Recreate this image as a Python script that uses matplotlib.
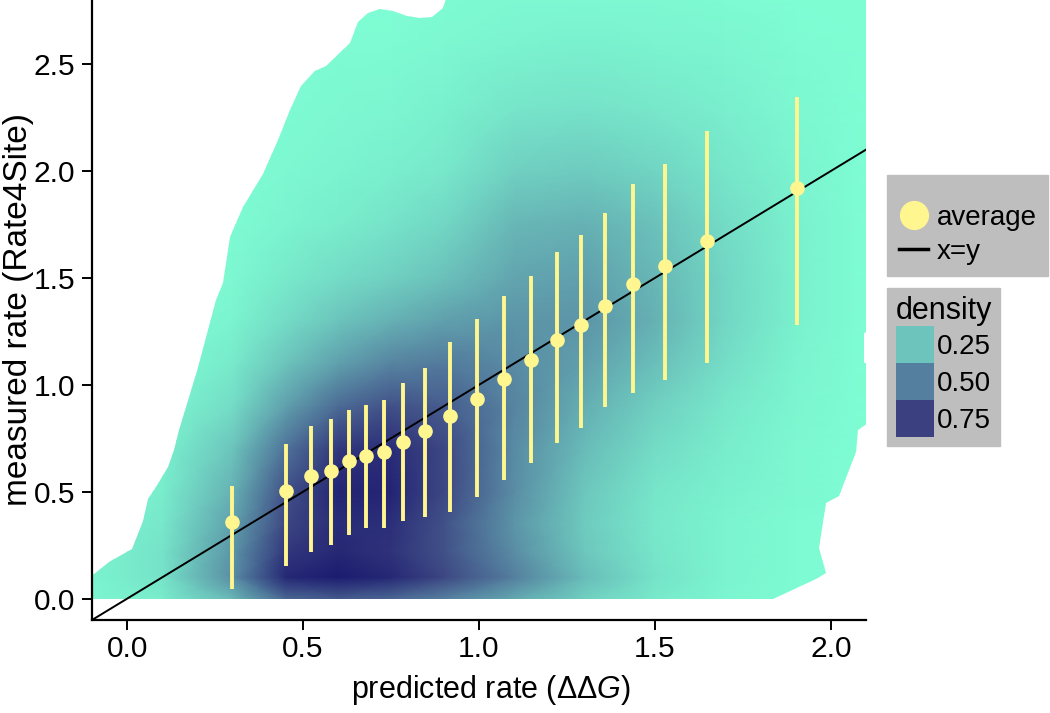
import numpy as np
import matplotlib
matplotlib.use("Agg")
import matplotlib.pyplot as plt
from matplotlib.colors import LinearSegmentedColormap, Normalize
from matplotlib.patches import Polygon, Patch
from matplotlib.lines import Line2D

plt.rcParams['font.family'] = ['Liberation Sans', 'DejaVu Sans']
plt.rcParams['mathtext.fontset'] = 'custom'
plt.rcParams['mathtext.rm'] = 'Liberation Sans'
plt.rcParams['mathtext.it'] = 'Liberation Sans:italic'

# ---- binned averages (predicted vs measured) ----
pred_x = [0.298, 0.450, 0.523, 0.580, 0.630, 0.678, 0.730, 0.785, 0.847, 0.917,
          0.993, 1.072, 1.148, 1.221, 1.289, 1.359, 1.438, 1.528, 1.649, 1.905]
meas_y = [0.357, 0.502, 0.573, 0.598, 0.645, 0.668, 0.684, 0.734, 0.782, 0.852,
          0.932, 1.027, 1.114, 1.211, 1.281, 1.370, 1.473, 1.554, 1.671, 1.921]
err_hi = [0.528, 0.721, 0.809, 0.841, 0.882, 0.907, 0.930, 1.008, 1.078, 1.199,
          1.309, 1.414, 1.509, 1.620, 1.701, 1.802, 1.938, 2.035, 2.186, 2.346]
err_lo = [0.045, 0.154, 0.217, 0.251, 0.298, 0.331, 0.331, 0.362, 0.380, 0.403,
          0.474, 0.556, 0.633, 0.730, 0.799, 0.896, 0.961, 1.024, 1.103, 1.278]

# ---- density field ----
dens_x = [-0.1, 0.1, 0.3, 0.45, 0.6, 0.75, 0.9, 1.1, 1.3, 1.5, 1.7, 1.9, 2.1]
dens_y = [0.0, 0.1, 0.22, 0.35, 0.5, 0.7, 0.9, 1.1, 1.3, 1.5, 1.75, 2.0, 2.3, 2.6, 2.8]
dens_z = [
    [0.04, 0.08, 0.30, 0.60, 0.65, 0.60, 0.50, 0.35, 0.20, 0.09, 0.04, 0.02, 0.01],
    [0.05, 0.12, 0.45, 0.88, 0.95, 0.88, 0.72, 0.50, 0.28, 0.12, 0.05, 0.02, 0.01],
    [0.05, 0.12, 0.42, 0.80, 0.88, 0.82, 0.68, 0.45, 0.24, 0.11, 0.05, 0.02, 0.01],
    [0.04, 0.10, 0.38, 0.72, 0.86, 0.84, 0.68, 0.42, 0.22, 0.10, 0.05, 0.02, 0.01],
    [0.03, 0.08, 0.32, 0.68, 0.90, 0.90, 0.72, 0.45, 0.24, 0.11, 0.06, 0.03, 0.01],
    [0.02, 0.06, 0.25, 0.55, 0.80, 0.85, 0.72, 0.46, 0.28, 0.15, 0.08, 0.03, 0.01],
    [0.01, 0.04, 0.15, 0.38, 0.58, 0.68, 0.64, 0.48, 0.33, 0.20, 0.10, 0.04, 0.01],
    [0.01, 0.02, 0.09, 0.25, 0.38, 0.48, 0.52, 0.46, 0.38, 0.27, 0.14, 0.05, 0.01],
    [0.00, 0.01, 0.05, 0.15, 0.25, 0.32, 0.38, 0.42, 0.42, 0.32, 0.17, 0.06, 0.01],
    [0.00, 0.01, 0.03, 0.09, 0.15, 0.20, 0.26, 0.36, 0.38, 0.30, 0.17, 0.06, 0.01],
    [0.00, 0.00, 0.02, 0.05, 0.08, 0.12, 0.17, 0.30, 0.32, 0.26, 0.15, 0.06, 0.01],
    [0.00, 0.00, 0.01, 0.03, 0.05, 0.07, 0.10, 0.20, 0.22, 0.18, 0.11, 0.05, 0.01],
    [0.00, 0.00, 0.01, 0.02, 0.03, 0.04, 0.06, 0.11, 0.12, 0.10, 0.07, 0.03, 0.01],
    [0.00, 0.00, 0.00, 0.01, 0.02, 0.02, 0.03, 0.05, 0.06, 0.05, 0.04, 0.02, 0.01],
    [0.00, 0.00, 0.00, 0.00, 0.01, 0.01, 0.02, 0.03, 0.03, 0.03, 0.02, 0.01, 0.01],
]

# outline of the region where density is drawn
support_x = [-0.1, -0.1, -0.094, -0.051, 0.015, 0.044, 0.058, 0.082, 0.115, 0.134, 0.148,
             0.199, 0.253, 0.272, 0.291, 0.328, 0.385, 0.428, 0.462, 0.495, 0.533, 0.566,
             0.632, 0.656, 0.685, 0.718, 0.756, 0.794, 0.832, 0.865, 0.898, 0.927, 2.2,
             2.2, 2.093, 2.093, 2.2, 2.2, 2.077, 2.071, 2.023, 1.986, 1.966, 1.986, 1.957,
             1.835]
support_y = [0.0, 0.117, 0.116, 0.170, 0.233, 0.365, 0.467, 0.521, 0.615, 0.693, 0.787,
             1.067, 1.395, 1.475, 1.692, 1.832, 1.988, 2.144, 2.285, 2.397, 2.469, 2.492,
             2.597, 2.698, 2.740, 2.758, 2.748, 2.725, 2.714, 2.721, 2.761, 2.9, 2.9,
             1.301, 1.241, 1.100, 1.081, 0.927, 0.787, 0.684, 0.482, 0.449, 0.239, 0.122,
             0.094, 0.0]

legend_levels = [0.25, 0.50, 0.75]

cmap = LinearSegmentedColormap.from_list(
    "dens", [(0.0, '#7FFFD4'), (0.25 / 0.95, '#6CC4BC'), (0.50 / 0.95, '#557F9F'),
             (0.75 / 0.95, '#3A4080'), (1.0, '#1C1C70')])
norm = Normalize(vmin=0, vmax=0.95)

fig = plt.figure(figsize=(10.5, 7.13), dpi=100)
ax = fig.add_axes([92 / 1050, 93 / 713, (866 - 92) / 1050, 620 / 713])

X, Y = np.meshgrid(dens_x, dens_y)
mesh = ax.pcolormesh(X, Y, np.array(dens_z), shading='gouraud', cmap=cmap, norm=norm, zorder=1)
clip = Polygon(np.column_stack([support_x, support_y]), closed=True, transform=ax.transData,
               facecolor='none', edgecolor='none')
mesh.set_clip_path(clip)

ax.axline((0, 0), (1, 1), color='black', lw=1.4, zorder=2)

yellow = '#FFF68F'
yerr = [np.array(meas_y) - np.array(err_lo), np.array(err_hi) - np.array(meas_y)]
ax.errorbar(pred_x, meas_y, yerr=yerr, fmt='o', color=yellow, ecolor=yellow,
            elinewidth=2.8, markersize=9.5, capsize=0, zorder=3)

ax.set_xlim(-0.1, 2.1)
ax.set_ylim(-0.1, 2.8)
ax.set_xticks([0.0, 0.5, 1.0, 1.5, 2.0])
ax.set_yticks([0.0, 0.5, 1.0, 1.5, 2.0, 2.5])
ax.xaxis.set_major_formatter(matplotlib.ticker.FormatStrFormatter('%.1f'))
ax.yaxis.set_major_formatter(matplotlib.ticker.FormatStrFormatter('%.1f'))
ax.spines['top'].set_visible(False)
ax.spines['right'].set_visible(False)
for s in ['left', 'bottom']:
    ax.spines[s].set_linewidth(1.6)
ax.tick_params(axis='both', labelsize=21.5, length=7, width=1.4, pad=4, color='black')
ax.tick_params(axis='y', pad=5)
ax.set_xlabel(r'predicted rate ($\Delta\Delta G$)', fontsize=22, labelpad=6)
ax.xaxis.set_label_coords(0.516, -0.085)
ax.set_ylabel('measured rate (Rate4Site)', fontsize=24, labelpad=0)

h1 = [Line2D([], [], marker='o', ls='', color=yellow, markersize=20),
      Line2D([], [], color='black', lw=2.5)]
leg1 = fig.legend(h1, ['average', 'x=y'], title=' ', title_fontsize=8,
                  loc='upper left', bbox_to_anchor=(0.845, 0.754),
                  borderaxespad=0, frameon=True, fancybox=False, facecolor='#BEBEBE',
                  edgecolor='#BEBEBE', framealpha=1, fontsize=20, handlelength=1.05,
                  handletextpad=0.3, labelspacing=0.28, borderpad=0.42)

h2 = [Patch(facecolor=cmap(norm(v)), edgecolor='none') for v in legend_levels]
leg2 = fig.legend(h2, ['%.2f' % v for v in legend_levels], title='density',
                  loc='upper left', bbox_to_anchor=(0.845, 0.596), borderaxespad=0,
                  frameon=True, fancybox=False, facecolor='#BEBEBE', edgecolor='#BEBEBE',
                  framealpha=1, fontsize=20, title_fontsize=22, handlelength=1.4,
                  handleheight=1.67, handletextpad=0.1, labelspacing=0.0, borderpad=0.3,
                  alignment='left')

fig.savefig('out.png', dpi=100)
